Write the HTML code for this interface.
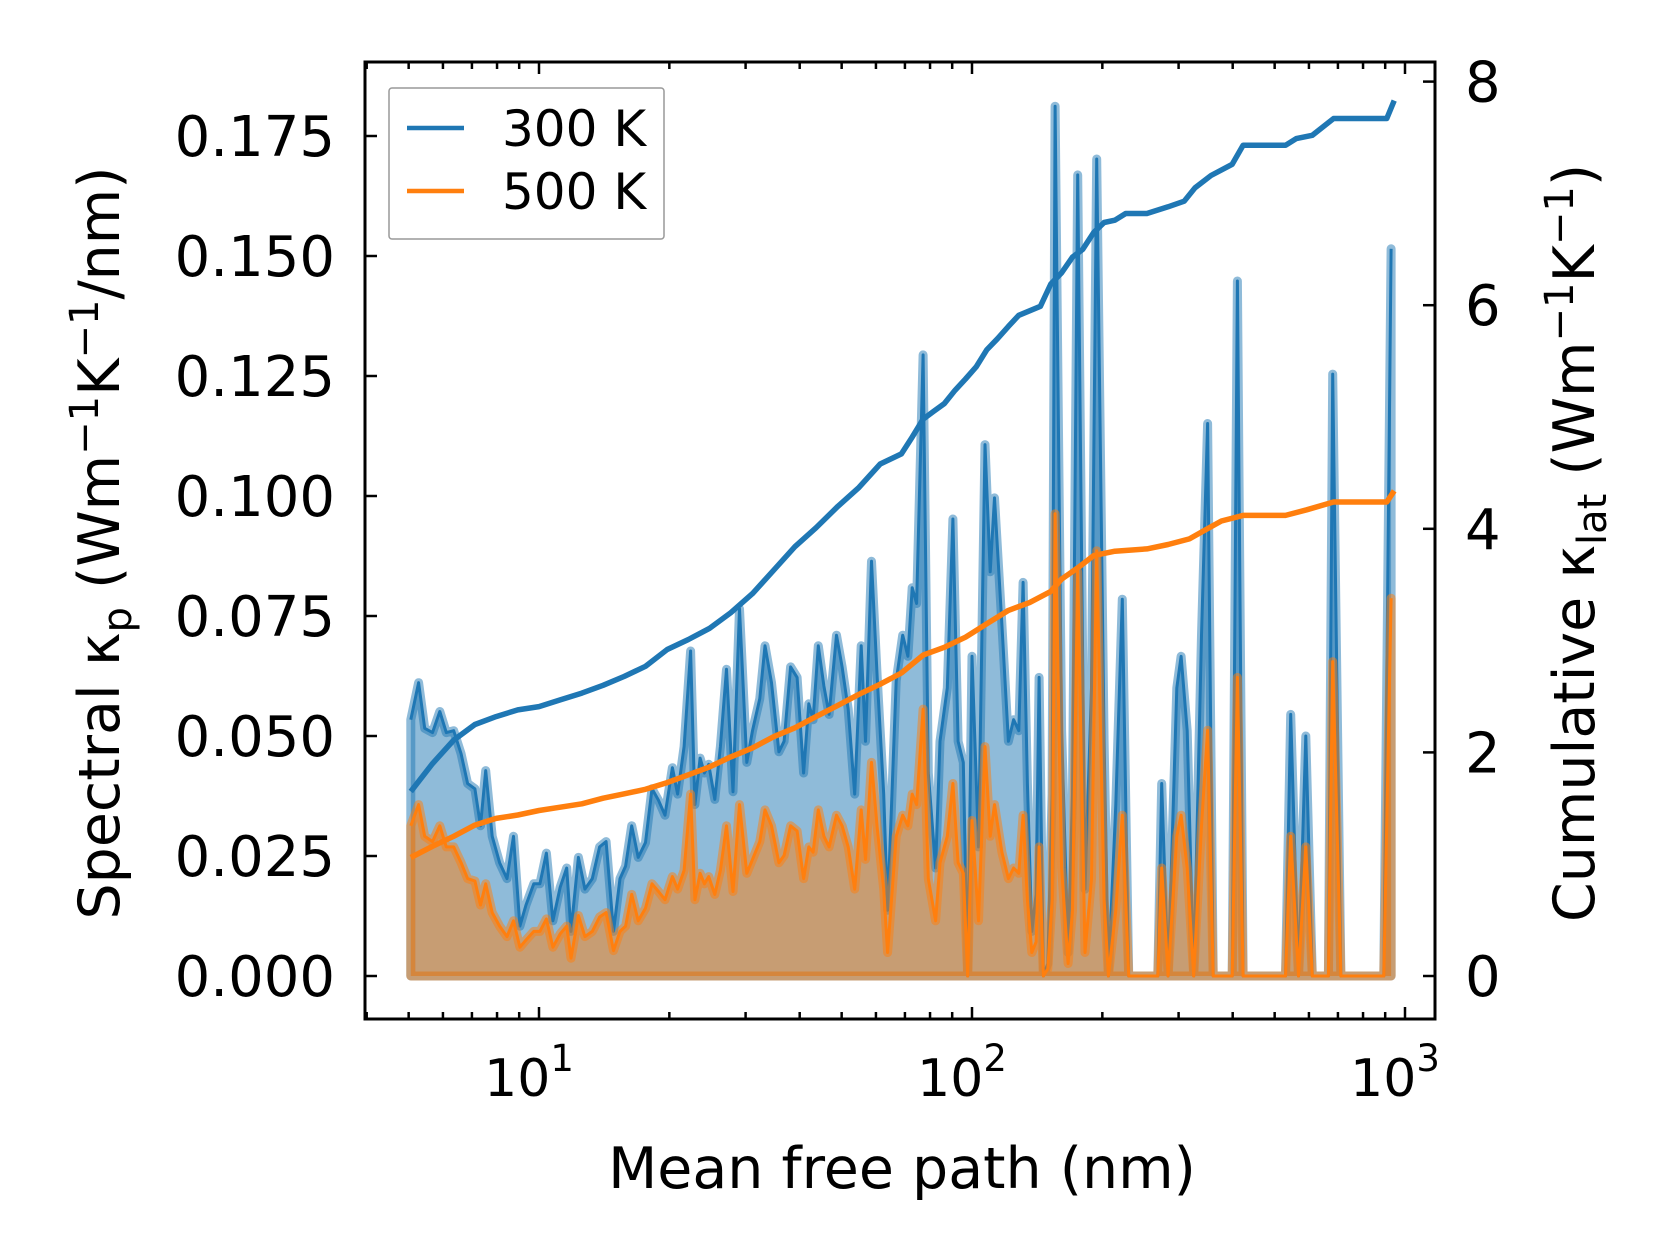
<!DOCTYPE html>
<html><head><meta charset="utf-8">
<style>
html,body{margin:0;padding:0;background:#fff;}
svg{display:block;font-family:"DejaVu Sans","Liberation Sans",sans-serif;}
</style></head>
<body>
<svg id="chart" width="1660" height="1257" viewBox="0 0 1660 1257" xmlns="http://www.w3.org/2000/svg">
<rect x="0" y="0" width="1660" height="1257" fill="#fff"/>
<g id="plot"></g>
<g id="axes"></g>
<g>
<rect x="389" y="88" width="275" height="151" rx="3" fill="#fff" fill-opacity="0.8" stroke="#999" stroke-width="1.5"/>
<line x1="407" y1="128" x2="464" y2="128" stroke="#1f77b4" stroke-width="4.5"/>
<text x="502" y="146" font-size="50">300 K</text>
<line x1="407" y1="191" x2="464" y2="191" stroke="#ff7f0e" stroke-width="4.5"/>
<text x="502" y="209" font-size="50">500 K</text>
</g>
<text x="902" y="1188" font-size="57" text-anchor="middle">Mean free path (nm)</text>
<text transform="translate(119,543) rotate(-90)" font-size="57" text-anchor="middle">Spectral κ<tspan font-size="40" dy="12">p</tspan><tspan dy="-12"> (Wm</tspan><tspan font-size="40" dy="-21">−1</tspan><tspan dy="21">K</tspan><tspan font-size="40" dy="-21">−1</tspan><tspan dy="21">/nm)</tspan></text>
<text transform="translate(1594,543) rotate(-90)" font-size="57" text-anchor="middle">Cumulative κ<tspan font-size="40" dy="12">lat</tspan><tspan dy="-12"> (Wm</tspan><tspan font-size="40" dy="-21">−1</tspan><tspan dy="21">K</tspan><tspan font-size="40" dy="-21">−1</tspan><tspan dy="21">)</tspan></text>
</svg>
<script>
// log10 of mean free path (nm) for spectral samples
const specLogMfp = [0.704,0.722,0.736,0.754,0.771,0.786,0.803,0.820,0.835,0.852,0.865,0.877,0.892,0.909,0.926,0.941,0.956,0.970,0.988,1.002,
1.017,1.032,1.049,1.064,1.074,1.091,1.106,1.123,1.140,1.155,1.172,1.187,1.200,1.214,1.229,1.246,1.261,1.276,1.291,1.308,
1.320,1.335,1.350,1.360,1.372,1.382,1.392,1.406,1.419,1.433,1.448,1.463,1.480,1.493,1.510,1.522,1.537,1.554,1.566,1.581,
1.596,1.611,1.623,1.633,1.645,1.658,1.670,1.687,1.700,1.714,1.729,1.744,1.754,1.768,1.781,1.796,1.805,1.825,1.840,1.852,
1.862,1.872,1.887,1.899,1.916,1.926,1.943,1.956,1.968,1.980,1.990,2.000,2.015,2.030,2.042,2.052,2.069,2.084,2.096,2.108,
2.118,2.128,2.138,2.148,2.155,2.165,2.175,2.185,2.192,2.207,2.222,2.232,2.244,2.261,2.276,2.288,2.305,2.315,2.332,2.347,
2.362,2.429,2.438,2.453,2.473,2.483,2.497,2.512,2.530,2.544,2.557,2.601,2.613,2.626,2.724,2.736,2.754,2.771,2.786,2.823,
2.833,2.852,2.951,2.968];
const spec300 = [0.0534,0.0611,0.0516,0.0507,0.0551,0.0507,0.0511,0.0463,0.0401,0.0390,0.0313,0.0428,0.0291,0.0236,0.0203,0.0291,0.0104,0.0148,0.0192,0.0192,
0.0256,0.0115,0.0185,0.0225,0.0093,0.0247,0.0181,0.0203,0.0269,0.0280,0.0093,0.0203,0.0229,0.0313,0.0247,0.0278,0.0390,0.0366,0.0335,0.0434,
0.0379,0.0478,0.0677,0.0357,0.0454,0.0423,0.0441,0.0368,0.0478,0.0639,0.0384,0.0765,0.0445,0.0511,0.0578,0.0688,0.0611,0.0467,0.0489,0.0644,
0.0622,0.0423,0.0567,0.0534,0.0688,0.0604,0.0545,0.0710,0.0644,0.0556,0.0379,0.0688,0.0489,0.0864,0.0622,0.0379,0.0137,0.0615,0.0710,0.0666,
0.0809,0.0776,0.1294,0.0423,0.0225,0.0489,0.0600,0.0952,0.0489,0.0445,0,0.0666,0.0269,0.1107,0.0842,0.0996,0.0732,0.0489,0.0534,0.0511,
0.0820,0.0401,0.0093,0.0170,0.0622,0,0.0026,0.0379,0.1812,0.0511,0.0049,0.0379,0.1669,0.0181,0.0600,0.1702,0.0489,0,0.0357,0.0785,
0,0,0.0401,0,0.0600,0.0666,0.0511,0,0.0710,0.1151,0,0,0.1448,0,0,0.0545,0,0.0500,0,0,
0.1254,0,0,0.1515];
const spec500 = [0.0313,0.0357,0.0291,0.0280,0.0313,0.0269,0.0269,0.0236,0.0203,0.0198,0.0148,0.0192,0.0132,0.0104,0.0082,0.0115,0.0060,0.0075,0.0093,0.0093,
0.0119,0.0060,0.0088,0.0104,0.0037,0.0126,0.0082,0.0093,0.0123,0.0132,0.0053,0.0093,0.0104,0.0170,0.0115,0.0141,0.0192,0.0176,0.0159,0.0207,
0.0181,0.0220,0.0379,0.0159,0.0214,0.0192,0.0207,0.0170,0.0220,0.0313,0.0176,0.0357,0.0214,0.0243,0.0280,0.0346,0.0313,0.0236,0.0251,0.0313,
0.0302,0.0203,0.0269,0.0258,0.0346,0.0291,0.0269,0.0335,0.0313,0.0269,0.0181,0.0346,0.0243,0.0445,0.0309,0.0181,0.0049,0.0291,0.0335,0.0313,
0.0379,0.0357,0.0556,0.0203,0.0115,0.0236,0.0291,0.0401,0.0236,0.0214,0,0.0324,0.0115,0.0478,0.0291,0.0357,0.0258,0.0203,0.0225,0.0214,
0.0335,0.0159,0.0049,0.0071,0.0269,0,0.0015,0.0159,0.0963,0.0225,0.0026,0.0137,0.0842,0.0049,0.0203,0.0886,0.0159,0,0.0137,0.0335,
0,0,0.0225,0,0.0291,0.0335,0.0225,0,0.0313,0.0512,0,0,0.0622,0,0,0.0291,0,0.0269,0,0,
0.0655,0,0,0.0787];
// cumulative kappa (right axis)
const cum300LogMfp = [0.704,0.754,0.803,0.852,0.901,0.951,1.000,1.049,1.099,1.148,1.197,1.246,1.296,1.345,1.394,1.443,1.493,1.542,1.591,1.640,
1.690,1.739,1.788,1.837,1.862,1.887,1.911,1.936,1.961,1.985,2.010,2.034,2.059,2.084,2.108,2.133,2.158,2.182,2.207,2.232,
2.256,2.281,2.305,2.330,2.355,2.404,2.453,2.490,2.515,2.552,2.601,2.626,2.724,2.749,2.786,2.835,2.958,2.975];
const cum300 = [1.65,1.90,2.11,2.25,2.32,2.38,2.41,2.47,2.53,2.60,2.68,2.77,2.92,3.01,3.11,3.25,3.42,3.63,3.84,4.01,
4.20,4.37,4.58,4.67,4.82,4.98,5.05,5.12,5.24,5.34,5.45,5.60,5.70,5.81,5.91,5.95,5.99,6.19,6.29,6.43,
6.50,6.65,6.74,6.76,6.82,6.82,6.88,6.93,7.05,7.16,7.26,7.43,7.43,7.49,7.52,7.67,7.67,7.83];
const cum500LogMfp = [0.704,0.754,0.803,0.852,0.901,0.951,1.000,1.049,1.099,1.148,1.197,1.246,1.296,1.345,1.394,1.443,1.493,1.542,1.591,1.640,
1.690,1.739,1.788,1.837,1.887,1.936,1.985,2.034,2.084,2.133,2.182,2.207,2.244,2.281,2.330,2.404,2.453,2.502,2.539,2.576,
2.626,2.724,2.773,2.835,2.958,2.975];
const cum500 = [1.06,1.16,1.25,1.35,1.41,1.44,1.48,1.51,1.54,1.59,1.63,1.67,1.73,1.80,1.87,1.96,2.04,2.14,2.22,2.32,
2.42,2.52,2.61,2.71,2.87,2.94,3.03,3.15,3.27,3.34,3.44,3.55,3.65,3.76,3.80,3.82,3.86,3.91,3.99,4.07,
4.12,4.12,4.17,4.24,4.24,4.34];
const leftTicks = [0,0.025,0.05,0.075,0.1,0.125,0.15,0.175];
const leftTickLabels = ["0.000","0.025","0.050","0.075","0.100","0.125","0.150","0.175"];
const rightTicks = [0,2,4,6,8];
const xDecades = [1,2,3];

const L=365,R=1435,T=62,B=1019;
const xs = lg => 539 + 433*(lg-1);
const yl = v => 976 - v*4800;
const yr = v => 976 - v*111.8;
const NS="http://www.w3.org/2000/svg";
function mk(tag,attrs,parent){const e=document.createElementNS(NS,tag);for(const k in attrs)e.setAttribute(k,attrs[k]);parent.appendChild(e);return e;}
const plot=document.getElementById('plot'), axes=document.getElementById('axes');

function spectral(vals,color,name){
  let d='M'+xs(specLogMfp[0]).toFixed(1)+','+yl(0).toFixed(1);
  for(let i=0;i<vals.length;i++) d+=' L'+xs(specLogMfp[i]).toFixed(1)+','+yl(vals[i]).toFixed(1);
  d+=' L'+xs(specLogMfp[vals.length-1]).toFixed(1)+','+yl(0).toFixed(1)+' Z';
  const a=mk('path',{d:d,fill:color,'fill-opacity':0.5,stroke:color,'stroke-opacity':0.5,'stroke-width':9,'stroke-linejoin':'round'},plot);
  
  
  let p='';
  for(let i=0;i<vals.length;i++) p+=(i?' L':'M')+xs(specLogMfp[i]).toFixed(1)+','+yl(vals[i]).toFixed(1);
  const l=mk('path',{d:p,fill:'none',stroke:color,'stroke-width':3,'stroke-linejoin':'round'},plot);
  
  
}
spectral(spec300,'#1f77b4','spectral-300k');
spectral(spec500,'#ff7f0e','spectral-500k');

function cumul(lx,vals,color,name){
  let p='';
  for(let i=0;i<vals.length;i++) p+=(i?' L':'M')+xs(lx[i]).toFixed(1)+','+yr(vals[i]).toFixed(1);
  const l=mk('path',{d:p,fill:'none',stroke:color,'stroke-width':5.5,'stroke-linejoin':'round'},plot);
  
  
}
cumul(cum300LogMfp,cum300,'#1f77b4','cumulative-300k-line');
cumul(cum500LogMfp,cum500,'#ff7f0e','cumulative-500k-line');

// spines
const sp=mk('rect',{x:L,y:T,width:R-L,height:B-T,fill:'none',stroke:'#000','stroke-width':3},axes);



// left ticks
leftTicks.forEach((v,i)=>{
  const y=yl(v);
  const t=mk('line',{x1:L,y1:y,x2:L+12,y2:y,stroke:'#000','stroke-width':2.5},axes);
  
  
  const tx=mk('text',{x:L-30,y:y+20,'font-size':56,'text-anchor':'end'},axes);
  tx.textContent=leftTickLabels[i];
  
  
});
// right ticks
rightTicks.forEach(v=>{
  const y=yr(v);
  const t=mk('line',{x1:R-12,y1:y,x2:R,y2:y,stroke:'#000','stroke-width':2.5},axes);
  
  
  const tx=mk('text',{x:R+30,y:y+20,'font-size':56},axes);
  tx.textContent=String(v);
  
  
});
// x ticks
for(let dec=0;dec<=3;dec++){
  for(let m=1;m<=9;m++){
    const lg=dec+Math.log10(m);
    const x=xs(lg);
    if(x<L+1||x>R-1) continue;
    const len=m===1?12:7;
    [[B,B-len],[T,T+len]].forEach(([a,b])=>{
      const t=mk('line',{x1:x,y1:a,x2:x,y2:b,stroke:'#000','stroke-width':2.5},axes);
      
      
    });
  }
}
xDecades.forEach(dv=>{
  const x=xs(dv);
  const tx=mk('text',{x:x-10,y:1096,'font-size':52,'text-anchor':'middle'},axes);
  tx.textContent='10';
  
  
  const s=mk('tspan',{'font-size':37,dy:-25},tx);
  s.textContent=String(dv);
});
</script>
</body></html>
